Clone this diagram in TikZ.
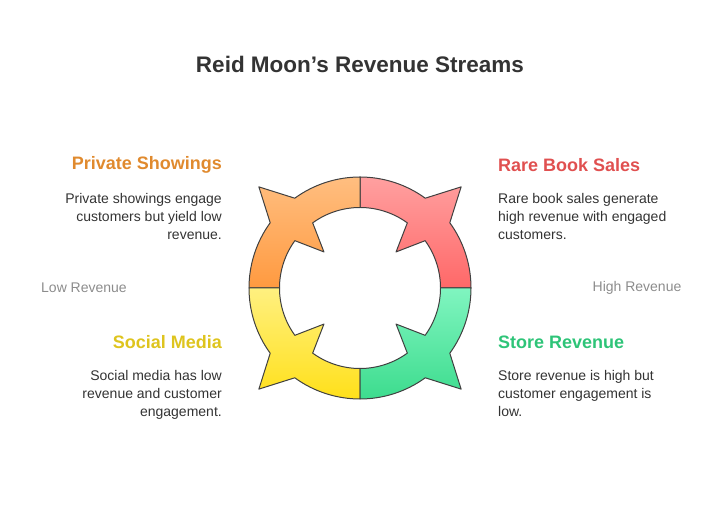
\documentclass[tikz,border=0pt]{standalone}
\usepackage{fontspec}
\setmainfont{Liberation Sans}
\begin{document}
\begin{tikzpicture}[x=1pt,y=1pt,
  seg/.style={draw=black!75,line width=1pt,line join=round},
  head/.style={inner sep=0pt,font=\bfseries\fontsize{18}{21}\selectfont},
  body/.style={inner sep=0pt,font=\fontsize{14}{18}\selectfont,text=black!80},
  side/.style={font=\fontsize{14}{17}\selectfont,text=black!45}]
\useasboundingbox (0,0) rectangle (720,519);
\definecolor{cR1}{HTML}{FFA0A0}\definecolor{cR2}{HTML}{FF6868}
\definecolor{cO1}{HTML}{FFBE80}\definecolor{cO2}{HTML}{FF9A40}
\definecolor{cY1}{HTML}{FFF080}\definecolor{cY2}{HTML}{FFE01A}
\definecolor{cG1}{HTML}{80F5C0}\definecolor{cG2}{HTML}{3DDC8E}
\coordinate (c) at (360,231);
\def\RR{111}\def\rr{80.5}\def\tip{143}\def\itip{51}
\foreach \a/\ct/\cb in {0/cR1/cR2,90/cO1/cO2,180/cY1/cY2,270/cG1/cG2}{
  \path[seg,top color=\ct,bottom color=\cb]
   ([shift={(\a:\RR)}]c) arc[start angle=\a,end angle=\a+36,radius=\RR]
   -- ([shift={(\a+45:\tip)}]c) -- ([shift={(\a+54:\RR)}]c)
   arc[start angle=\a+54,end angle=\a+90,radius=\RR]
   -- ([shift={(\a+90:\rr)}]c)
   arc[start angle=\a+90,end angle=\a+54,radius=\rr]
   -- ([shift={(\a+45:\itip)}]c) -- ([shift={(\a+36:\rr)}]c)
   arc[start angle=\a+36,end angle=\a,radius=\rr] -- cycle;
}
\node[font=\bfseries\fontsize{22.5}{26}\selectfont,text=black!80] (t) at (360,455) {Reid Moon's Revenue Streams};
\node[head,text={rgb,255:red,224;green,138;blue,46},anchor=east] (h1) at (222,354) {Private Showings};
\node[body,anchor=north east,align=right] (b1) at (222,326) {Private showings engage\\customers but yield low\\revenue.};
\node[head,text={rgb,255:red,224;green,80;blue,80},anchor=west] (h2) at (498,354) {Rare Book Sales};
\node[body,anchor=north west,align=left] (b2) at (498,326) {Rare book sales generate\\high revenue with engaged\\customers.};
\node[head,text={rgb,255:red,222;green,196;blue,30},anchor=east] (h3) at (222,177) {Social Media};
\node[body,anchor=north east,align=right] (b3) at (222,149) {Social media has low\\revenue and customer\\engagement.};
\node[head,text={rgb,255:red,46;green,196;blue,120},anchor=west] (h4) at (498,177) {Store Revenue};
\node[body,anchor=north west,align=left] (b4) at (498,149) {Store revenue is high but\\customer engagement is\\low.};
\node[side] (lo) at (84,231) {Low Revenue};
\node[side] (hi) at (637,231) {High Revenue};
\end{tikzpicture}
\end{document}
